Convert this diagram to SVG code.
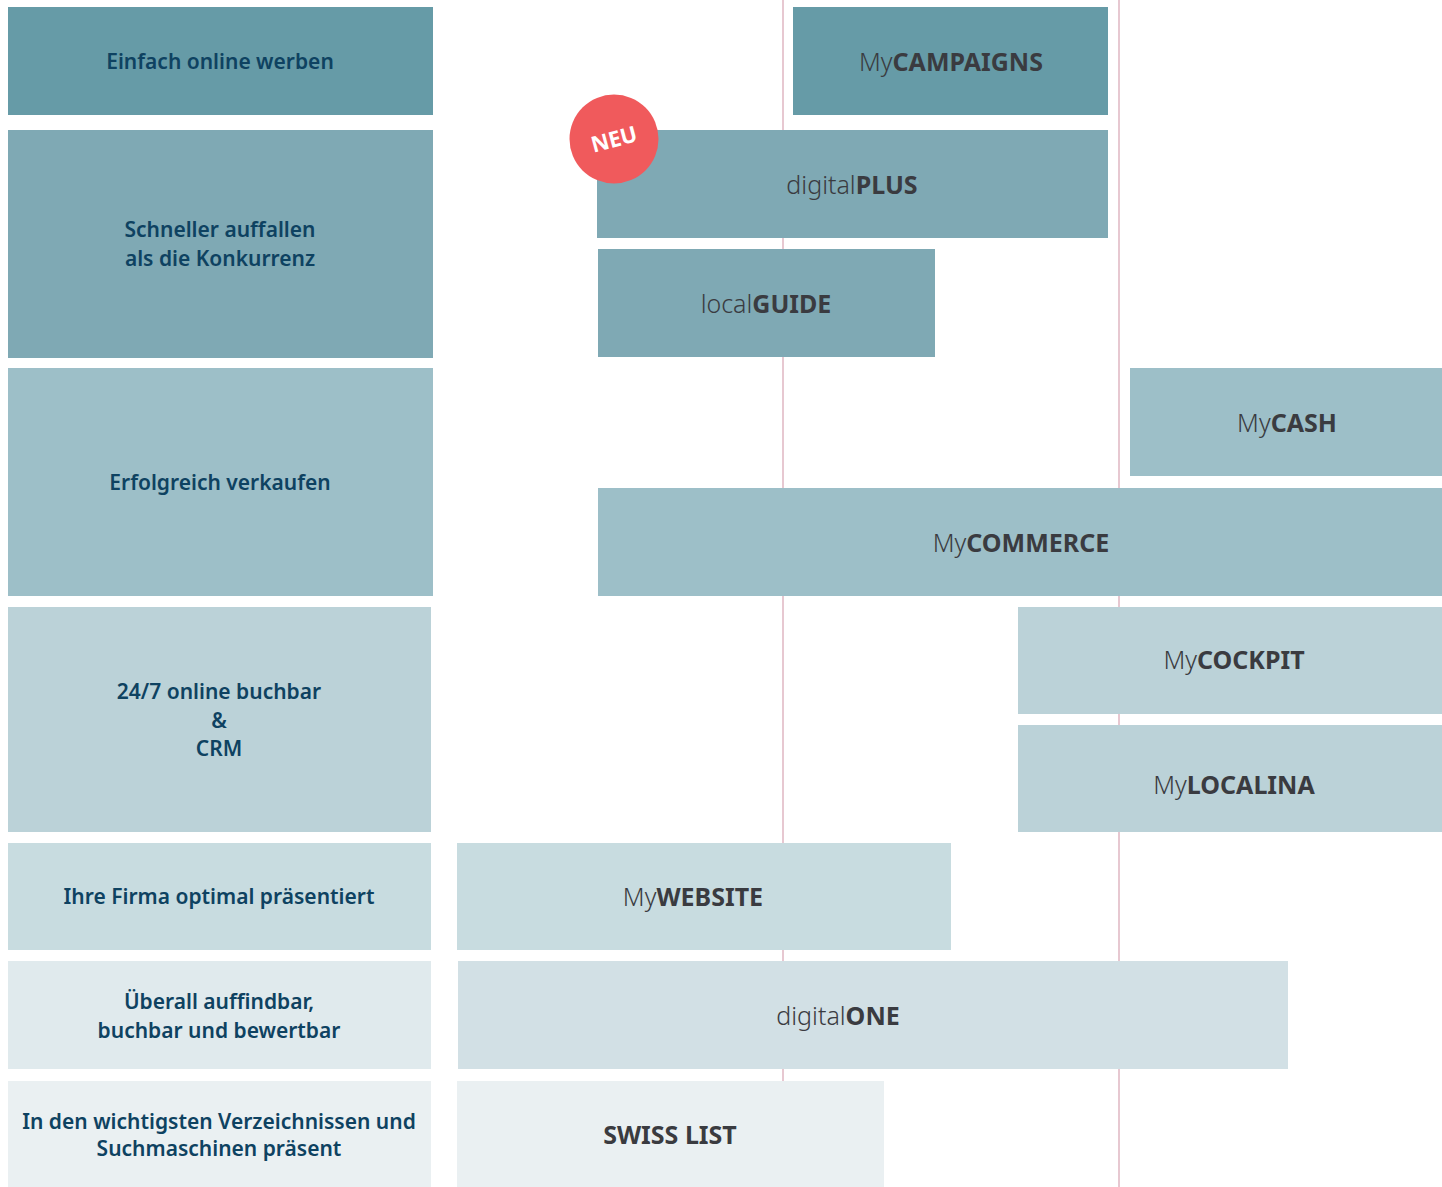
<svg xmlns="http://www.w3.org/2000/svg" width="1442" height="1187" viewBox="0 0 1442 1187">
<style>
.lbl{font-family:"Noto Sans","Liberation Sans",sans-serif;font-size:21px;font-weight:600;fill:#0e4261;text-anchor:middle}
.prd{font-family:"Noto Sans","Liberation Sans",sans-serif;font-size:25px;fill:#3a3b40;text-anchor:middle}
.lt{font-weight:300}
.bd{font-weight:700}
.c1{fill:#669ba7}.c2{fill:#7fa9b4}.c3{fill:#9dbfc8}.c4{fill:#bbd2d8}.c5{fill:#c8dce0}.c6{fill:#d2e0e5}.c6b{fill:#e0eaed}.c7{fill:#eaf0f2}
.guide{stroke:#dfb6c2;stroke-width:1.5;fill:none}
</style>
<g id="connectors">
<line class="guide" x1="783" y1="0" x2="783" y2="1187"/>
<line class="guide" x1="1119" y1="0" x2="1119" y2="1187"/>
</g>
<g id="label-werben"><rect class="c1" x="8" y="7" width="425" height="108"/><text class="lbl" x="220" y="69">Einfach online werben</text></g>
<g id="label-auffallen"><rect class="c2" x="8" y="130" width="425" height="228"/><text class="lbl" x="220" y="237">Schneller auffallen</text><text class="lbl" x="220" y="266">als die Konkurrenz</text></g>
<g id="label-verkaufen"><rect class="c3" x="8" y="368" width="425" height="228"/><text class="lbl" x="220" y="490">Erfolgreich verkaufen</text></g>
<g id="label-buchbar"><rect class="c4" x="8" y="607" width="423" height="225"/><text class="lbl" x="219" y="699">24/7 online buchbar</text><text class="lbl" x="219" y="728">&amp;</text><text class="lbl" x="219" y="756">CRM</text></g>
<g id="label-firma"><rect class="c5" x="8" y="843" width="423" height="107"/><text class="lbl" x="219" y="904">Ihre Firma optimal präsentiert</text></g>
<g id="label-auffindbar"><rect class="c6b" x="8" y="961" width="423" height="108"/><text class="lbl" x="219" y="1009">Überall auffindbar,</text><text class="lbl" x="219" y="1038">buchbar und bewertbar</text></g>
<g id="label-verzeichnisse"><rect class="c7" x="8" y="1081" width="423" height="106"/><text class="lbl" x="219" y="1129">In den wichtigsten Verzeichnissen und</text><text class="lbl" x="219" y="1156">Suchmaschinen präsent</text></g>

<g id="mycampaigns"><rect class="c1" x="793" y="7" width="315" height="108"/><text class="prd" x="951" y="71"><tspan class="lt">My</tspan><tspan class="bd">CAMPAIGNS</tspan></text></g>
<g id="digitalplus"><rect class="c2" x="597" y="130" width="511" height="108"/><text class="prd" x="852" y="194"><tspan class="lt">digital</tspan><tspan class="bd">PLUS</tspan></text></g>
<g id="localguide"><rect class="c2" x="598" y="249" width="337" height="108"/><text class="prd" x="766" y="313"><tspan class="lt">local</tspan><tspan class="bd">GUIDE</tspan></text></g>
<g id="mycash"><rect class="c3" x="1130" y="368" width="312" height="108"/><text class="prd" x="1287" y="432"><tspan class="lt">My</tspan><tspan class="bd">CASH</tspan></text></g>
<g id="mycommerce"><rect class="c3" x="598" y="488" width="844" height="108"/><text class="prd" x="1021" y="552"><tspan class="lt">My</tspan><tspan class="bd">COMMERCE</tspan></text></g>
<g id="mycockpit"><rect class="c4" x="1018" y="607" width="424" height="107"/><text class="prd" x="1234" y="669"><tspan class="lt">My</tspan><tspan class="bd">COCKPIT</tspan></text></g>
<g id="mylocalina"><rect class="c4" x="1018" y="725" width="424" height="107"/><text class="prd" x="1234" y="794"><tspan class="lt">My</tspan><tspan class="bd">LOCALINA</tspan></text></g>
<g id="mywebsite"><rect class="c5" x="457" y="843" width="494" height="107"/><text class="prd" x="693" y="906"><tspan class="lt">My</tspan><tspan class="bd">WEBSITE</tspan></text></g>
<g id="digitalone"><rect class="c6" x="458" y="961" width="830" height="108"/><text class="prd" x="838" y="1025"><tspan class="lt">digital</tspan><tspan class="bd">ONE</tspan></text></g>
<g id="swisslist"><rect class="c7" x="457" y="1081" width="427" height="106"/><text class="prd" x="670" y="1144"><tspan class="bd">SWISS LIST</tspan></text></g>

<g id="badge-neu"><circle cx="614" cy="139" r="44.5" fill="#f05a5c"/><text x="614" y="147" transform="rotate(-15 614 139)" style="font-family:'Noto Sans','Liberation Sans',sans-serif;font-size:22px;font-weight:700;fill:#ffffff;text-anchor:middle">NEU</text></g>
</svg>
